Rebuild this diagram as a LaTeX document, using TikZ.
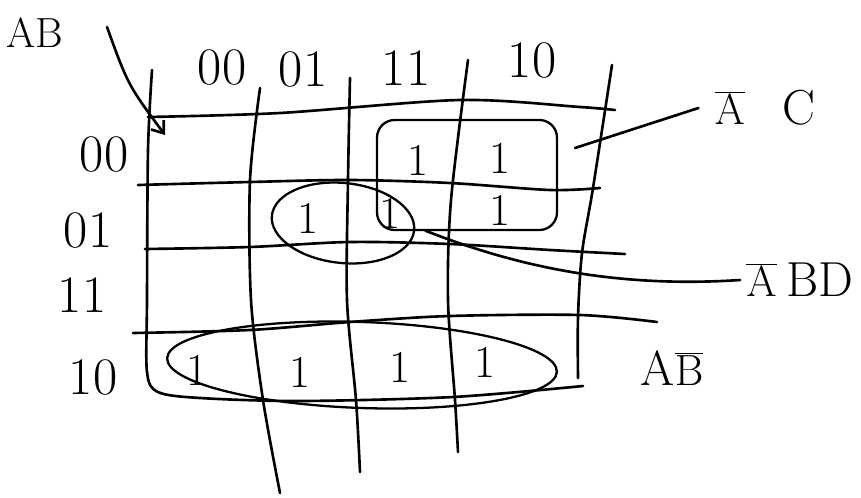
\documentclass[tikz,border=0pt]{standalone}
\usepackage[dvipsnames]{xcolor}
\usepackage{tikz}
\usetikzlibrary{shapes.geometric,arrows.meta}

\tikzset{
	kline/.style={line width=1.5pt, line cap=round},
	grp/.style={draw, line width=1.3pt},
	idx/.style={font=\fontsize{30}{32}\selectfont},
	cell/.style={font=\fontsize{26}{28}\selectfont},
	term/.style={font=\fontsize{28}{30}\selectfont},
}

\begin{document}
\begin{tikzpicture}[x=0.02cm, y=-0.02cm]
	\useasboundingbox (0,0) rectangle (861,497);

	% the map
	\draw[kline] plot[smooth] coordinates {(148,117) (280,113) (460,100) (580,107) (615,110)};
	\draw[kline] plot[smooth] coordinates {(138,185) (250,182) (350,180) (450,183) (550,190) (600,188)};
	\draw[kline] plot[smooth] coordinates {(145,249) (250,247) (350,242) (450,244) (550,250) (625,254)};
	\draw[kline] plot[smooth] coordinates {(133,333) (250,330) (350,322) (450,316) (580,315) (657,322)};
	\draw[kline] plot[smooth] coordinates {(152,70) (148,150) (147,300) (147,372) (158,392) (200,398) (300,401) (453,397) (583,386)};
	\draw[kline] plot[smooth] coordinates {(260,88) (250,180) (251,300) (263,400) (280,493)};
	\draw[kline] plot[smooth] coordinates {(350,78) (348,180) (347,300) (356,400) (360,472)};
	\draw[kline] plot[smooth] coordinates {(468,60) (451,200) (448,300) (455,400) (458,452)};
	\draw[kline] plot[smooth] coordinates {(612,65) (593,188) (582,253) (578,317) (578,378)};

	\path
	(35,33)   node[font=\fontsize{24}{26}\selectfont] (ab) {AB}
	(222,68)  node[idx] (c00) {00}
	(303,70)  node[idx] (c01) {01}
	(406,68)  node[idx] (c11) {11}
	(532,60)  node[idx] (c10) {10}
	(104,154) node[idx] (r00) {00}
	(88,230)  node[idx] (r01) {01}
	(82,295)  node[idx] (r11) {11}
	(93,377)  node[idx] (r10) {10}
	;

	\path
	(418,160) node[cell] (m3)  {1}
	(500,158) node[cell] (m2)  {1}
	(308,218) node[cell] (m5)  {1}
	(390,213) node[cell] (m7)  {1}
	(500,210) node[cell] (m6)  {1}
	(197,370) node[cell] (m8)  {1}
	(300,372) node[cell] (m9)  {1}
	(400,367) node[cell] (m11) {1}
	(485,362) node[cell] (m10) {1}
	;

	\node[grp, rounded corners=10pt, minimum width=3.6cm, minimum height=2.2cm] (gac) at (467,175) {};
	\node[grp, ellipse, minimum width=2.86cm, minimum height=1.6cm, rotate=-6] (gabd) at (343,223) {};
	\node[grp, ellipse, minimum width=7.8cm, minimum height=1.72cm, rotate=-2] (gab) at (362,365) {};

	\path
	(765,108) node[term] (tac)  {$\overline{\mathrm{A}}$\hspace{0.75cm}C}
	(800,280) node[term] (tabd) {$\overline{\mathrm{A}}$\hspace{0.2cm}BD}
	(672,368) node[term] (tab)  {A$\overline{\mathrm{B}}$}
	;

	\coordinate (abtail) at (107,27);
	\coordinate (pac) at (575,148);
	\draw[kline, -{Straight Barb[length=6pt,width=9pt]}] (abtail) .. controls (128,85) .. (165,135);
	\draw[kline] (pac) -- ([xshift=-0.2cm]tac.west);
	\draw[kline] ([xshift=0.2cm]gabd.east) .. controls (520,268) and (620,288) .. (tabd.west);
\end{tikzpicture}
\end{document}
